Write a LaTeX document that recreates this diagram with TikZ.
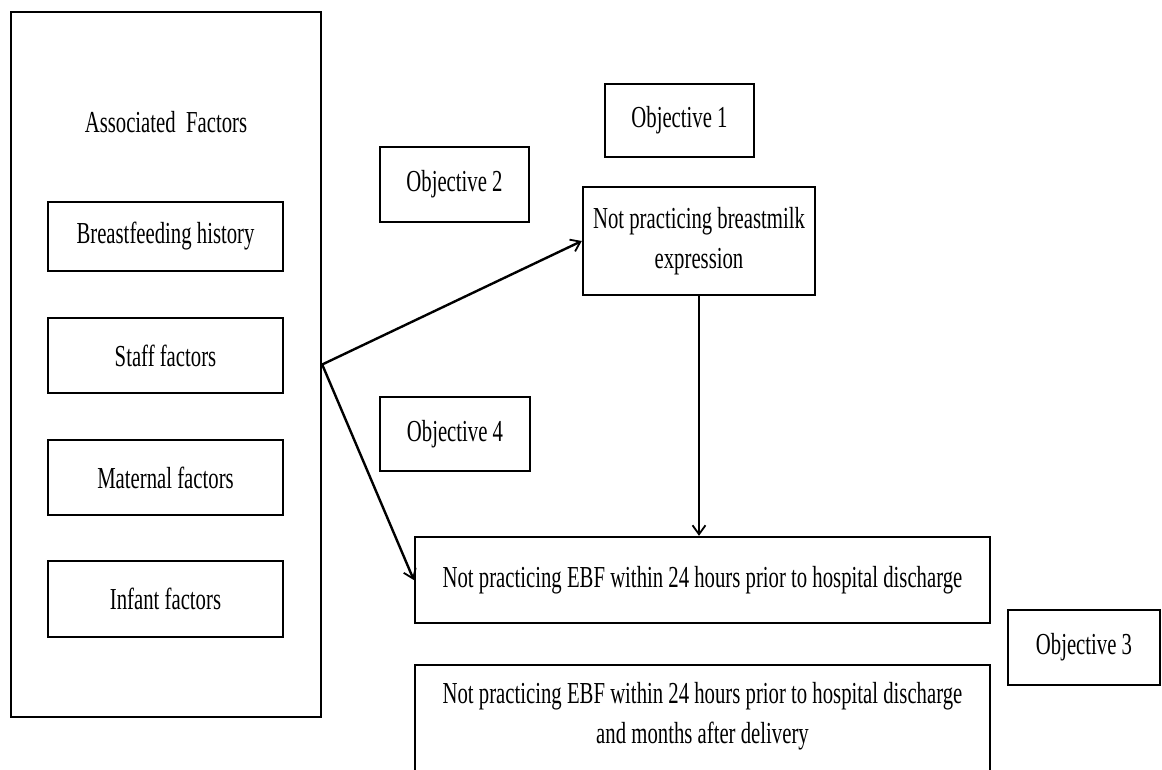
\documentclass[tikz,border=0pt]{standalone}
\usepackage{fontspec}
\setmainfont{Liberation Serif}[FakeStretch=0.68]
\usetikzlibrary{arrows.meta}
\begin{document}
\begin{tikzpicture}[x=1pt,y=-1pt,
  every node/.style={font=\fontsize{30.5}{40}\selectfont, inner sep=0pt, align=center},
  box/.style={draw, line width=2.4pt},
  conn/.style={line width=2.4pt, -{Straight Barb[length=9pt,width=13pt,line width=1.8pt]}}]
\useasboundingbox (0,0) rectangle (1162,769);
\clip (0,0) rectangle (1162,769);
% left panel
\node[box, minimum width=310pt, minimum height=705pt] (outer) at (166,364.5) {};
\node (assoc) at (166,122) {Associated\ \ Factors};
\node[box, minimum width=235pt, minimum height=69pt] (bfh) at (165.5,236.5) {Breastfeeding history};
\node[box, minimum width=235pt, minimum height=75pt] (staff) at (165.5,355.5) {Staff factors};
\node[box, minimum width=235pt, minimum height=75pt] (maternal) at (165.5,477.5) {Maternal factors};
\node[box, minimum width=235pt, minimum height=76pt] (infant) at (165.5,599) {Infant factors};
% objectives
\node[box, minimum width=149pt, minimum height=73pt] (obj1) at (679.5,120.5) {Objective 1};
\node[box, minimum width=149pt, minimum height=75pt] (obj2) at (454.5,184.5) {Objective 2};
\node[box, minimum width=150pt, minimum height=74pt] (obj4) at (455,434) {Objective 4};
\node[box, minimum width=152pt, minimum height=75pt] (obj3) at (1084,647.5) {Objective 3};
% outcomes
\node[box, minimum width=232pt, minimum height=108pt] (milk) at (699,241) {Not practicing breastmilk\\expression};
\node[box, minimum width=575pt, minimum height=86pt] (ebf1) at (702.5,580) {Not practicing EBF within 24 hours prior to hospital discharge};
\draw[box] (415,665) rectangle (990,800);
\node (ebf2) at (702.5,716) {Not practicing EBF within 24 hours prior to hospital discharge\\and months after delivery};
% connectors
\draw[conn] (outer.east) -- (milk.west);
\draw[conn] (outer.east) -- (ebf1.west);
\draw[conn, line width=1.8pt] (milk.south) -- (milk.south |- ebf1.north);
\end{tikzpicture}
\end{document}
